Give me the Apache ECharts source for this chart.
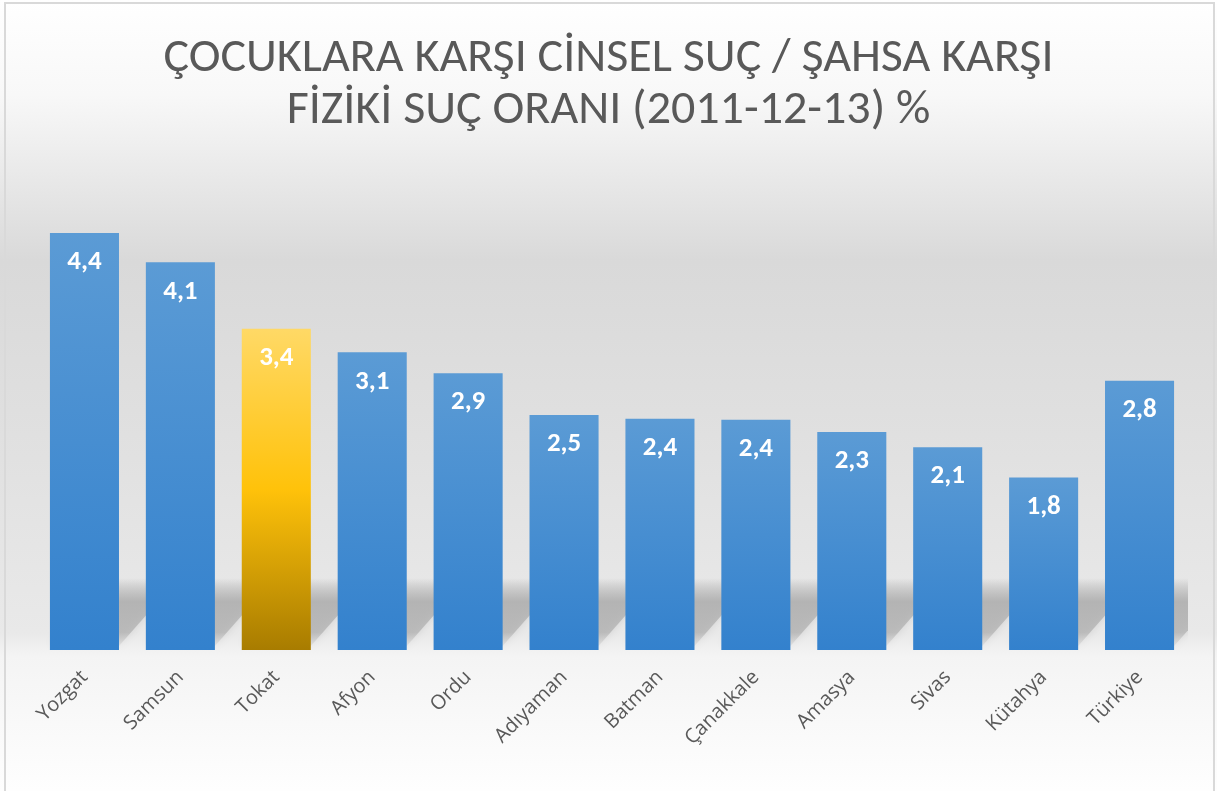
<!DOCTYPE html>
<html>
<head>
<meta charset="utf-8">
<script src="https://cdn.jsdelivr.net/npm/echarts@6/dist/echarts.min.js"></script>
<style>
html,body{margin:0;padding:0;background:#fff;}
#c{width:1217px;height:791px;}
</style>
</head>
<body>
<div id="c"></div>
<script>
const titleText = 'ÇOCUKLARA KARŞI CİNSEL SUÇ / ŞAHSA KARŞI\nFİZİKİ SUÇ ORANI (2011-12-13) %';
const categories = ['Yozgat','Samsun','Tokat','Afyon','Ordu','Adıyaman','Batman','Çanakkale','Amasya','Sivas','Kütahya','Türkiye'];
const values = [4.40, 4.09, 3.39, 3.14, 2.92, 2.48, 2.44, 2.43, 2.30, 2.14, 1.82, 2.84];
const highlightCategory = 'Tokat';

const FONT = "Carlito, 'Liberation Sans Narrow', 'Open Sans', sans-serif";
const LABEL_FONT = "'Open Sans', 'Noto Sans', sans-serif";

const blueGrad = new echarts.graphic.LinearGradient(0,0,0,1,[
  {offset:0,color:'#5b9bd5'},{offset:1,color:'#3381cd'}]);
const goldGrad = new echarts.graphic.LinearGradient(0,0,0,1,[
  {offset:0,color:'#ffd966'},{offset:0.5,color:'#ffc20a'},{offset:1,color:'#a87c00'}]);
const shadowGrad = new echarts.graphic.LinearGradient(0,0,0,1,[
  {offset:0,color:'rgba(170,170,170,0)'},
  {offset:0.35,color:'rgba(170,170,170,0.75)'},
  {offset:0.8,color:'rgba(175,175,175,0.7)'},
  {offset:1,color:'rgba(200,200,200,0.3)'}]);

const chart = echarts.init(document.getElementById('c'), null, {renderer:'canvas'});
chart.setOption({
  backgroundColor: new echarts.graphic.LinearGradient(0,0,0,1,[
    {offset:0,color:'#ffffff'},
    {offset:0.12,color:'#f8f8f8'},
    {offset:0.33,color:'#d9d9d9'},
    {offset:0.55,color:'#e0e0e0'},
    {offset:0.8,color:'#e9e9e9'},
    {offset:0.83,color:'#f4f4f4'},
    {offset:1,color:'#fefefe'}]),
  animation:false,
  title:{
    text:titleText, left:'center', top:28,
    textStyle:{fontFamily:FONT,fontSize:48,fontWeight:'normal',color:'#595959',lineHeight:52}
  },
  graphic:[{
    type:'rect', z:100, silent:true,
    shape:{x:5,y:3,width:1209,height:800},
    style:{fill:'none',stroke:'#d9d9d9',lineWidth:2}
  }],
  grid:{left:36.5,right:29.5,top:176,bottom:141},
  xAxis:{
    type:'category', data:categories,
    axisLine:{show:false}, axisTick:{show:false},
    axisLabel:{rotate:45,margin:24,fontFamily:LABEL_FONT,fontSize:20,color:'#595959'}
  },
  yAxis:{type:'value',min:0,max:5,show:false,splitLine:{show:false}},
  series:[{
    type:'custom', z:1, silent:true, clip:true,
    data: values,
    renderItem:function(params, api){
      const i = params.dataIndex;
      const base = api.coord([i,0]);
      const half = api.size([1,0])[0]*0.36;
      const xL = base[0]-half, xR = base[0]+half, y = base[1];
      return {
        type:'polygon',
        shape:{points:[[xL,y-4],[xR,y-4],[xR+60,y-72],[xL+60,y-72]]},
        style:{fill:shadowGrad,shadowBlur:8,shadowColor:'rgba(170,170,170,0.5)'}
      };
    }
  },{
    type:'bar', z:2, barWidth:'72%',
    data: values.map((v,i)=>({
      value:v,
      itemStyle:{color: categories[i]===highlightCategory ? goldGrad : blueGrad}
    })),
    label:{
      show:true, position:'insideTop', distance:16,
      fontFamily:FONT, fontSize:27, fontWeight:'bold', color:'#ffffff',
      formatter:p=>p.value.toFixed(1).replace('.',',')
    }
  }]
});
</script>
</body>
</html>
